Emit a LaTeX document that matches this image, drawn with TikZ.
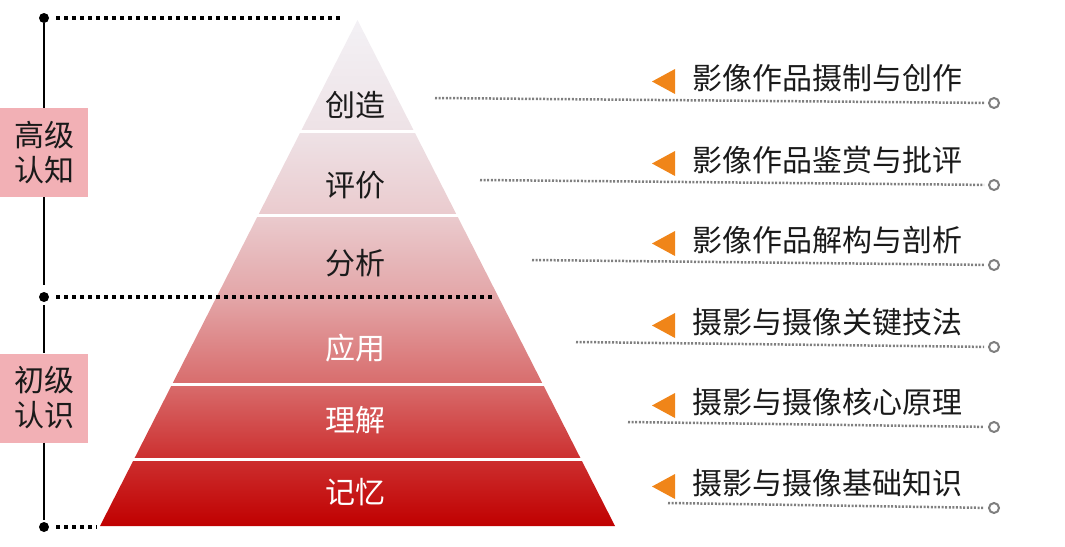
\documentclass[tikz,border=0pt]{standalone}
\usepackage{fontspec}
\setmainfont{Noto Sans CJK SC}
\usepackage{tikz}
\usetikzlibrary{calc}
\definecolor{ink}{HTML}{1A1A1A}
\definecolor{boxpink}{HTML}{F2B0B5}
\definecolor{dotgray}{HTML}{7F7F7F}
\definecolor{markorange}{HTML}{F08519}
\definecolor{pyrA}{HTML}{F3F1F5}
\definecolor{pyrB}{HTML}{EEE2E6}
\definecolor{pyrC}{HTML}{EACACD}
\definecolor{pyrD}{HTML}{E3A5A7}
\definecolor{pyrE}{HTML}{D86C6C}
\definecolor{pyrF}{HTML}{CC2E2E}
\definecolor{pyrG}{HTML}{C00000}
\pgfdeclareverticalshading{pyramidfill}{100bp}{color(0bp)=(pyrG); color(25bp)=(pyrG); color(31.5bp)=(pyrF); color(39bp)=(pyrE); color(47.5bp)=(pyrD); color(55.5bp)=(pyrC); color(64bp)=(pyrB); color(75bp)=(pyrA); color(100bp)=(pyrA)}
\tikzset{
  bigtext/.style={font=\fontsize{30}{35}\selectfont},
  levelblack/.style={bigtext,text=ink,inner sep=0pt},
  levelwhite/.style={bigtext,text=white,inner sep=0pt},
  stagebox/.style={bigtext,fill=boxpink,text=ink,minimum width=88pt,minimum height=89pt,inner sep=0pt,align=center},
  blackdot/.style={circle,fill=black,minimum size=10pt,inner sep=0pt},
  endcircle/.style={circle,draw=dotgray,fill=white,line width=2pt,minimum size=10pt,inner sep=0pt},
  guide/.style={line width=3.5pt,dash pattern=on 3.5pt off 4.5pt,draw=black},
  leader/.style={line width=2.5pt,dash pattern=on 2pt off 1.6pt,draw=dotgray,shorten >=4pt},
  itemtext/.style={bigtext,text=ink,anchor=west,inner sep=0pt},
  marker/.style={fill=markorange},
  gap/.style={draw=white,line width=3pt,shorten <=-3pt,shorten >=-3pt}
}

\begin{document}
\begin{tikzpicture}[x=1pt,y=-1pt]
\useasboundingbox (0,0) rectangle (1065,546);
% pyramid
\coordinate (apex) at (357.5,20);
\coordinate (bl) at (100,526);
\coordinate (br) at (615,526);
\shade[shading=pyramidfill] (apex) -- (bl) -- (br) -- cycle;
\foreach \t in {0.2194,0.3854,0.7194,0.8676}
  \draw[gap] ($(apex)!\t!(bl)$) -- ($(apex)!\t!(br)$);
\node[levelblack] (create) at (355,105) {创造};
\node[levelblack] (evaluate) at (355,185) {评价};
\node[levelblack] (analyse) at (355,263) {分析};
\node[levelwhite] (apply) at (355,348) {应用};
\node[levelwhite] (understand) at (355,420) {理解};
\node[levelwhite] (remember) at (355,492) {记忆};
% left bracket
\node[blackdot] (dtop) at (44,18) {};
\node[blackdot] (dmid) at (44,297) {};
\node[blackdot] (dbot) at (44,527) {};
\node[stagebox] (high) at (44,152.5) {高级\\认知};
\node[stagebox] (low) at (44,398) {初级\\认识};
\coordinate (ttop) at (340,18);
\coordinate (tmid) at (495,297);
\coordinate (tbot) at (97,527);
\draw[line width=2.4pt] (dtop) -- (high);
\draw[line width=2.4pt,shorten >=7pt] (high) -- (dmid);
\draw[line width=2.4pt,shorten <=3pt] (dmid) -- (low);
\draw[line width=2.4pt,shorten >=2pt] (low) -- (dbot);
\draw[guide,shorten <=7pt] (dtop) -- (ttop);
\draw[guide,shorten <=7pt] (dmid) -- (tmid);
\draw[guide,shorten <=7pt] (dbot) -- (tbot);
% right items
\node[itemtext] (i1) at (692,78) {影像作品摄制与创作};
\node[itemtext] (i2) at (692,160) {影像作品鉴赏与批评};
\node[itemtext] (i3) at (692,240) {影像作品解构与剖析};
\node[itemtext] (i4) at (692,322) {摄影与摄像关键技法};
\node[itemtext] (i5) at (692,402) {摄影与摄像核心原理};
\node[itemtext] (i6) at (692,483) {摄影与摄像基础知识};
\foreach \i in {i1,i2,i3,i4,i5,i6}
  \fill[marker] ($(\i.west)+(-17,-9)$) -- ++(-23,12.5) -- ++(23,12.5) -- cycle;
\coordinate (l1) at (435,98);
\coordinate (l2) at (480,180);
\coordinate (l3) at (532,260);
\coordinate (l4) at (576,342);
\coordinate (l5) at (628,422);
\coordinate (l6) at (668,503);
\node[endcircle] (c1) at (994,103) {};
\node[endcircle] (c2) at (994,185) {};
\node[endcircle] (c3) at (994,265) {};
\node[endcircle] (c4) at (994,347) {};
\node[endcircle] (c5) at (994,427) {};
\node[endcircle] (c6) at (994,508) {};
\draw[leader] (l1) -- (c1);
\draw[leader] (l2) -- (c2);
\draw[leader] (l3) -- (c3);
\draw[leader] (l4) -- (c4);
\draw[leader] (l5) -- (c5);
\draw[leader] (l6) -- (c6);
\end{tikzpicture}
\end{document}
